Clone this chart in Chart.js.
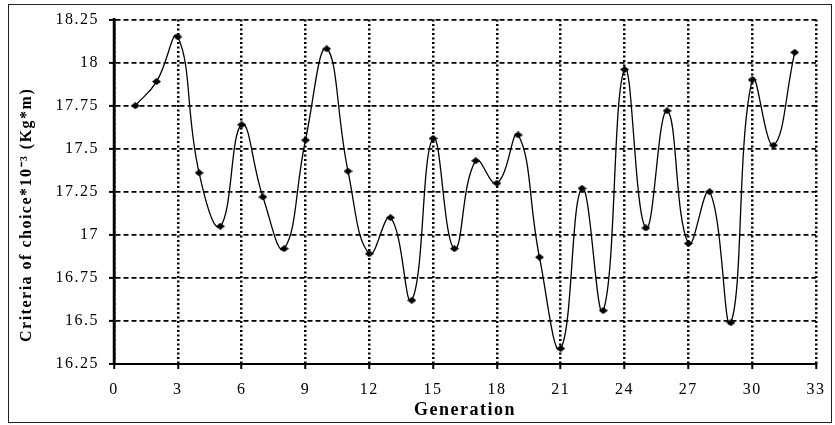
<!DOCTYPE html>
<html>
<head>
<meta charset="utf-8">
<script src="https://cdn.jsdelivr.net/npm/chart.js@4.4.1/dist/chart.umd.min.js"></script>
<style>
  html,body{margin:0;padding:0;background:#fff;}
  #wrap{width:835px;height:425px;}
</style>
</head>
<body>
<div id="wrap"><canvas id="c" width="835" height="425"></canvas></div>
<script>
// generation number and criteria of choice *10^-3 (Kg*m)
const generations=[1,2,3,4,5,6,7,8,9,10,11,12,13,14,15,16,17,18,19,20,21,22,23,24,25,26,27,28,29,30,31,32];
const criteria=[17.75,17.89,18.15,17.36,17.05,17.64,17.22,16.92,17.55,18.08,17.37,16.89,17.10,16.62,17.56,16.92,
                17.43,17.30,17.58,16.87,16.34,17.27,16.56,17.96,17.04,17.72,16.95,17.25,16.49,17.90,17.52,18.06];
const yTickLabels=['16.25','16.5','16.75','17','17.25','17.5','17.75','18','18.25'];
const xTickLabels=['0','3','6','9','12','15','18','21','24','27','30','33'];

// diamond marker, a bit wider than tall like the original
const diamond=document.createElement('canvas');
diamond.width=9; diamond.height=7;
(function(){
  const g=diamond.getContext('2d');
  g.fillStyle='#000';
  g.beginPath(); g.moveTo(4.5,0); g.lineTo(9,3.5); g.lineTo(4.5,7); g.lineTo(0,3.5); g.closePath(); g.fill();
})();

const frame={
  id:'frame',
  beforeDraw(chart){
    const ctx=chart.ctx;
    ctx.save();
    ctx.strokeStyle='#222'; ctx.lineWidth=1;
    ctx.strokeRect(8.5,4.5,823,418);
    ctx.restore();
    ctx.letterSpacing='1.5px';
  },
  // solid axis lines on the left and bottom, over the dashed grid
  beforeDatasetsDraw(chart){
    const {ctx,chartArea:a}=chart;
    ctx.save();
    ctx.setLineDash([]);
    ctx.strokeStyle='#000';
    ctx.lineWidth=2.5;
    ctx.beginPath(); ctx.moveTo(a.left,a.top-1); ctx.lineTo(a.left,a.bottom+1); ctx.stroke();
    ctx.lineWidth=2;
    ctx.beginPath(); ctx.moveTo(a.left-1,a.bottom); ctx.lineTo(a.right+1,a.bottom); ctx.stroke();
    ctx.restore();
  }
};

const serif='"Liberation Serif", "Times New Roman", serif';

new Chart(document.getElementById('c'),{
  type:'line',
  data:{
    datasets:[{
      data:generations.map((g,i)=>({x:g,y:criteria[i]})),
      borderColor:'#000', borderWidth:1.3, tension:0.45,
      pointStyle:diamond, pointRadius:4, pointHoverRadius:4,
      fill:false, clip:false
    }]
  },
  options:{
    responsive:false, animation:false, devicePixelRatio:1,
    layout:{padding:{left:0,right:13,top:19,bottom:0}},
    plugins:{legend:{display:false},tooltip:{enabled:false}},
    scales:{
      x:{
        type:'linear', min:0, max:33,
        afterFit(s){ s.height=61; },
        ticks:{stepSize:3, color:'#000', padding:11, font:{family:serif,size:16},
          callback:(v,i)=>xTickLabels[i]},
        grid:{color:'#000', lineWidth:2.5, drawTicks:true, tickLength:5,
          tickColor:'#000', tickWidth:2, tickBorderDash:[]},
        border:{display:true, color:'#000', width:2, dash:[2,2.5]},
        title:{display:true, text:'Generation', color:'#000', padding:{top:0,bottom:4},
          font:{family:serif,size:18,weight:'bold'}}
      },
      y:{
        min:16.25, max:18.25,
        afterFit(s){ s.width=114; },
        ticks:{stepSize:0.25, color:'#000', padding:10, font:{family:serif,size:16},
          callback:(v,i)=>yTickLabels[i]},
        grid:{color:'#000', lineWidth:1.8, drawTicks:true, tickLength:5,
          tickColor:'#000', tickWidth:2, tickBorderDash:[]},
        border:{display:true, color:'#000', width:2.5, dash:[5,3]},
        title:{display:true, align:'start', text:'    Criteria of choice*10\u207B\u00B3 (Kg*m)', color:'#000',
          padding:{top:17,bottom:0}, font:{family:serif,size:16,weight:'bold'}}
      }
    }
  },
  plugins:[frame]
});
</script>
</body>
</html>
